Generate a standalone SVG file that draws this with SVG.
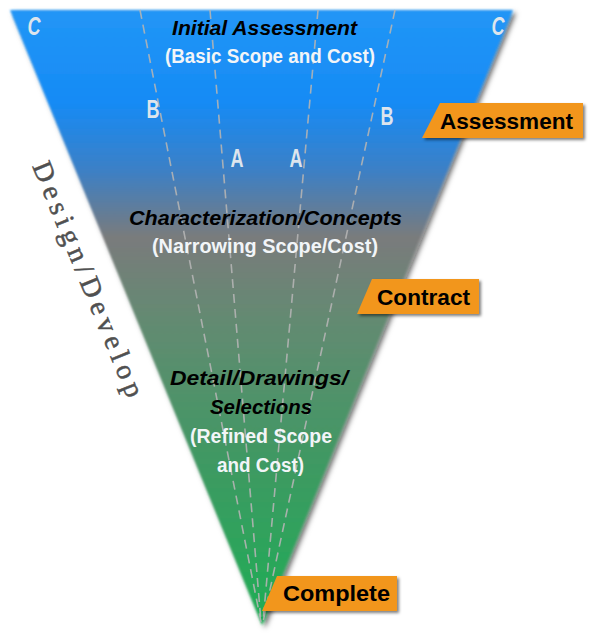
<svg xmlns="http://www.w3.org/2000/svg" width="594" height="640" viewBox="0 0 594 640">
  <defs>
    <linearGradient id="funnelGrad" x1="0" y1="10" x2="0" y2="625" gradientUnits="userSpaceOnUse">
      <stop offset="0" stop-color="#2296f6"/>
      <stop offset="0.15" stop-color="#168bf5"/>
      <stop offset="0.26" stop-color="#3c80c6"/>
      <stop offset="0.37" stop-color="#7a7b7c"/>
      <stop offset="0.5" stop-color="#648a72"/>
      <stop offset="0.75" stop-color="#3d9a62"/>
      <stop offset="1" stop-color="#1eae55"/>
    </linearGradient>
    <filter id="shadow" x="-10%" y="-10%" width="130%" height="130%">
      <feGaussianBlur in="SourceGraphic" stdDeviation="0.8" result="soft"/>
      <feDropShadow in="soft" dx="3" dy="3" stdDeviation="2.5" flood-color="#000" flood-opacity="0.6"/>
    </filter>
    <filter id="tagShadow" x="-10%" y="-20%" width="130%" height="150%">
      <feDropShadow dx="2" dy="2" stdDeviation="1.5" flood-color="#000" flood-opacity="0.5"/>
    </filter>
  </defs>
  <style>
    .guide { stroke: #b4b4b4; stroke-width: 1.6; stroke-dasharray: 9 6; fill: none; opacity: 0.9; }
    .letter { font-family: "Liberation Sans", "DejaVu Sans", sans-serif; font-weight: bold; font-size: 25px; fill: #dde5ed; text-anchor: middle; }
    .head { font-family: "Liberation Sans", "DejaVu Sans", sans-serif; font-weight: bold; font-style: italic; font-size: 21px; fill: #000; text-anchor: middle; }
    .sub { font-family: "Liberation Sans", "DejaVu Sans", sans-serif; font-weight: bold; font-size: 19.5px; fill: #f2f5f8; text-anchor: middle; }
    .tag { fill: #f2961e; filter: url(#tagShadow); }
    .tagText { font-family: "Liberation Sans", "DejaVu Sans", sans-serif; font-weight: bold; font-size: 22.5px; fill: #000; }
    .side { font-family: "Liberation Serif", "DejaVu Serif", serif; font-size: 28px; fill: #505050; stroke: #505050; stroke-width: 0.5; }
  </style>

  <g id="funnel">
    <polygon points="10,10 513,10 262,625" fill="url(#funnelGrad)" filter="url(#shadow)"/>
  </g>

  <g id="connectors">
    <line class="guide" x1="140" y1="10" x2="261" y2="622"/>
    <line class="guide" x1="210" y1="10" x2="261" y2="622"/>
    <line class="guide" x1="318" y1="10" x2="263" y2="622"/>
    <line class="guide" x1="395" y1="10" x2="263" y2="622"/>
  </g>

  <g id="zone-labels">
    <text class="letter" transform="translate(34,35) scale(0.72,1)" font-style="italic">C</text>
    <text class="letter" transform="translate(498,35) scale(0.72,1)" font-style="italic">C</text>
    <text class="letter" transform="translate(153,118) scale(0.72,1)">B</text>
    <text class="letter" transform="translate(387,125) scale(0.72,1)">B</text>
    <text class="letter" transform="translate(237,167) scale(0.72,1)">A</text>
    <text class="letter" transform="translate(296,167) scale(0.72,1)">A</text>
  </g>

  <g id="stage-initial">
    <text class="head" x="264.5" y="35" textLength="185" lengthAdjust="spacingAndGlyphs">Initial Assessment</text>
    <text class="sub" x="270" y="63" textLength="210" lengthAdjust="spacingAndGlyphs">(Basic Scope and Cost)</text>
  </g>

  <g id="stage-characterization">
    <text class="head" x="265.5" y="225" textLength="273" lengthAdjust="spacingAndGlyphs">Characterization/Concepts</text>
    <text class="sub" x="265" y="253" textLength="226" lengthAdjust="spacingAndGlyphs">(Narrowing Scope/Cost)</text>
  </g>

  <g id="stage-detail">
    <text class="head" x="259" y="385" textLength="178" lengthAdjust="spacingAndGlyphs">Detail/Drawings/</text>
    <text class="head" x="261" y="414" textLength="102" lengthAdjust="spacingAndGlyphs">Selections</text>
    <text class="sub" x="261" y="443" textLength="142" lengthAdjust="spacingAndGlyphs">(Refined Scope</text>
    <text class="sub" x="260.5" y="472" textLength="87" lengthAdjust="spacingAndGlyphs">and Cost)</text>
  </g>

  <g id="design-develop">
    <text class="side" transform="translate(32,166) rotate(67.7)" textLength="252" lengthAdjust="spacing">Design/Develop</text>
  </g>

  <g id="tag-assessment">
    <polygon class="tag" points="440,103 583,103 583,138 422,138"/>
    <text class="tagText" x="440" y="129" textLength="133" lengthAdjust="spacingAndGlyphs">Assessment</text>
  </g>

  <g id="tag-contract">
    <polygon class="tag" points="372,279 479,279 479,314 357,314"/>
    <text class="tagText" x="377" y="305" textLength="93" lengthAdjust="spacingAndGlyphs">Contract</text>
  </g>

  <g id="tag-complete">
    <polygon class="tag" points="277,576 397,576 397,611 262,611"/>
    <text class="tagText" x="283" y="601" textLength="107" lengthAdjust="spacingAndGlyphs">Complete</text>
  </g>
</svg>
